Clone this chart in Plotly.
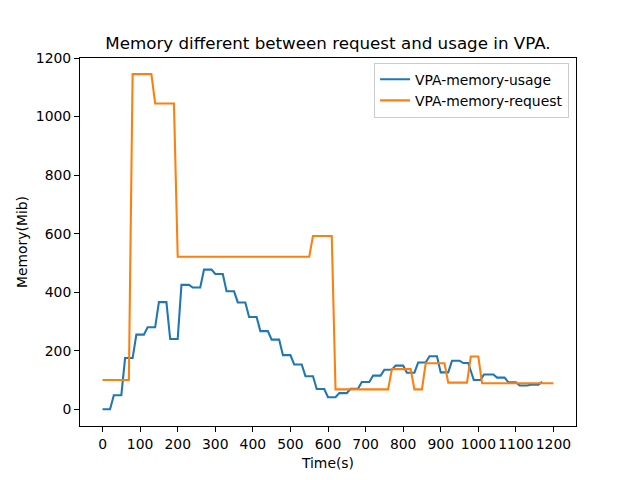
import plotly.graph_objects as go

# Usage series (corner points)
usage_time = [0, 20, 30, 50, 60, 80, 90, 110, 120, 140, 150, 170, 180, 200, 210, 230,
              240, 260, 270, 290, 300, 320, 330, 350, 360, 380, 390, 410, 420, 440,
              450, 470, 480, 500, 510, 530, 540, 560, 570, 590, 600, 620, 630, 650,
              660, 680, 690, 710, 720, 740, 750, 770, 780, 800, 810, 830, 840, 860,
              870, 890, 900, 920, 930, 950, 960, 973, 988, 1006, 1015, 1040, 1050, 1070,
              1080, 1100, 1110, 1130, 1140, 1160, 1170]
usage_mib = [0, 0, 48, 48, 175, 175, 255, 255, 280, 280, 366, 366, 240, 240, 425, 425,
             416, 416, 477, 477, 462, 462, 403, 403, 365, 365, 315, 315, 267, 267,
             238, 238, 185, 185, 153, 153, 113, 113, 69, 69, 41, 41, 55, 55,
             70, 70, 93, 93, 115, 115, 135, 135, 149, 149, 125, 125, 160, 160,
             181, 181, 126, 126, 166, 166, 158, 158, 100, 100, 119, 119, 108, 108,
             92, 92, 81, 81, 84, 84, 94]

# Request series
request_time = [0, 70, 80, 130, 140, 190, 200, 550, 560, 610, 620, 760, 770, 820,
                830, 850, 860, 910, 920, 970, 980, 1000, 1010, 1200]
request_mib = [100, 100, 1145, 1145, 1045, 1045, 521, 521, 592, 592, 68, 68, 137, 137,
               68, 68, 157, 157, 91, 91, 180, 180, 89, 89]

x_ticks = list(range(0, 1201, 100))
y_ticks = list(range(0, 1201, 200))

font_family = "DejaVu Sans"
FS = 13.9
TITLE_FS = 16.7

fig = go.Figure()
fig.add_trace(go.Scatter(x=usage_time, y=usage_mib, mode="lines",
                         name="VPA-memory-usage",
                         line=dict(color="#1f77b4", width=2.08)))
fig.add_trace(go.Scatter(x=request_time, y=request_mib, mode="lines",
                         name="VPA-memory-request",
                         line=dict(color="#ff7f0e", width=2.08)))

axis_common = dict(showgrid=False, zeroline=False, showline=True, mirror=True,
                   linecolor="black", linewidth=1, ticks="outside", ticklen=5,
                   tickwidth=1, tickcolor="black",
                   tickfont=dict(family=font_family, size=FS, color="black"))

W, H = 632, 472  # page has an 8px body margin

fig.update_layout(
    width=W, height=H,
    margin=dict(l=72, r=64, t=50, b=54, autoexpand=False),
    paper_bgcolor="white", plot_bgcolor="white",
    font=dict(family=font_family, size=FS, color="black"),
    title=dict(text="Memory different between request and usage in VPA.",
               x=0.5, xref="paper", xanchor="center",
               y=1 - 35 / H, yref="container", yanchor="middle",
               font=dict(family=font_family, size=TITLE_FS, color="black")),
    xaxis=dict(range=[-60, 1260], tickvals=x_ticks, ticktext=[str(v) for v in x_ticks],
               title=dict(text="Time(s)", standoff=7,
                          font=dict(family=font_family, size=FS, color="black")),
               automargin=False, **axis_common),
    yaxis=dict(range=[-57.2, 1200.2], tickvals=y_ticks, ticktext=[str(v) for v in y_ticks],
               title=dict(text="Memory(Mib)", standoff=4,
                          font=dict(family=font_family, size=FS, color="black")),
               automargin=False, **axis_common),
    legend=dict(x=0.986, xanchor="right", y=0.987, yanchor="top",
                bgcolor="white", bordercolor="#cccccc", borderwidth=1,
                font=dict(family=font_family, size=FS, color="black"),
                tracegroupgap=0),
    showlegend=True,
)

fig.write_html("out.html")
